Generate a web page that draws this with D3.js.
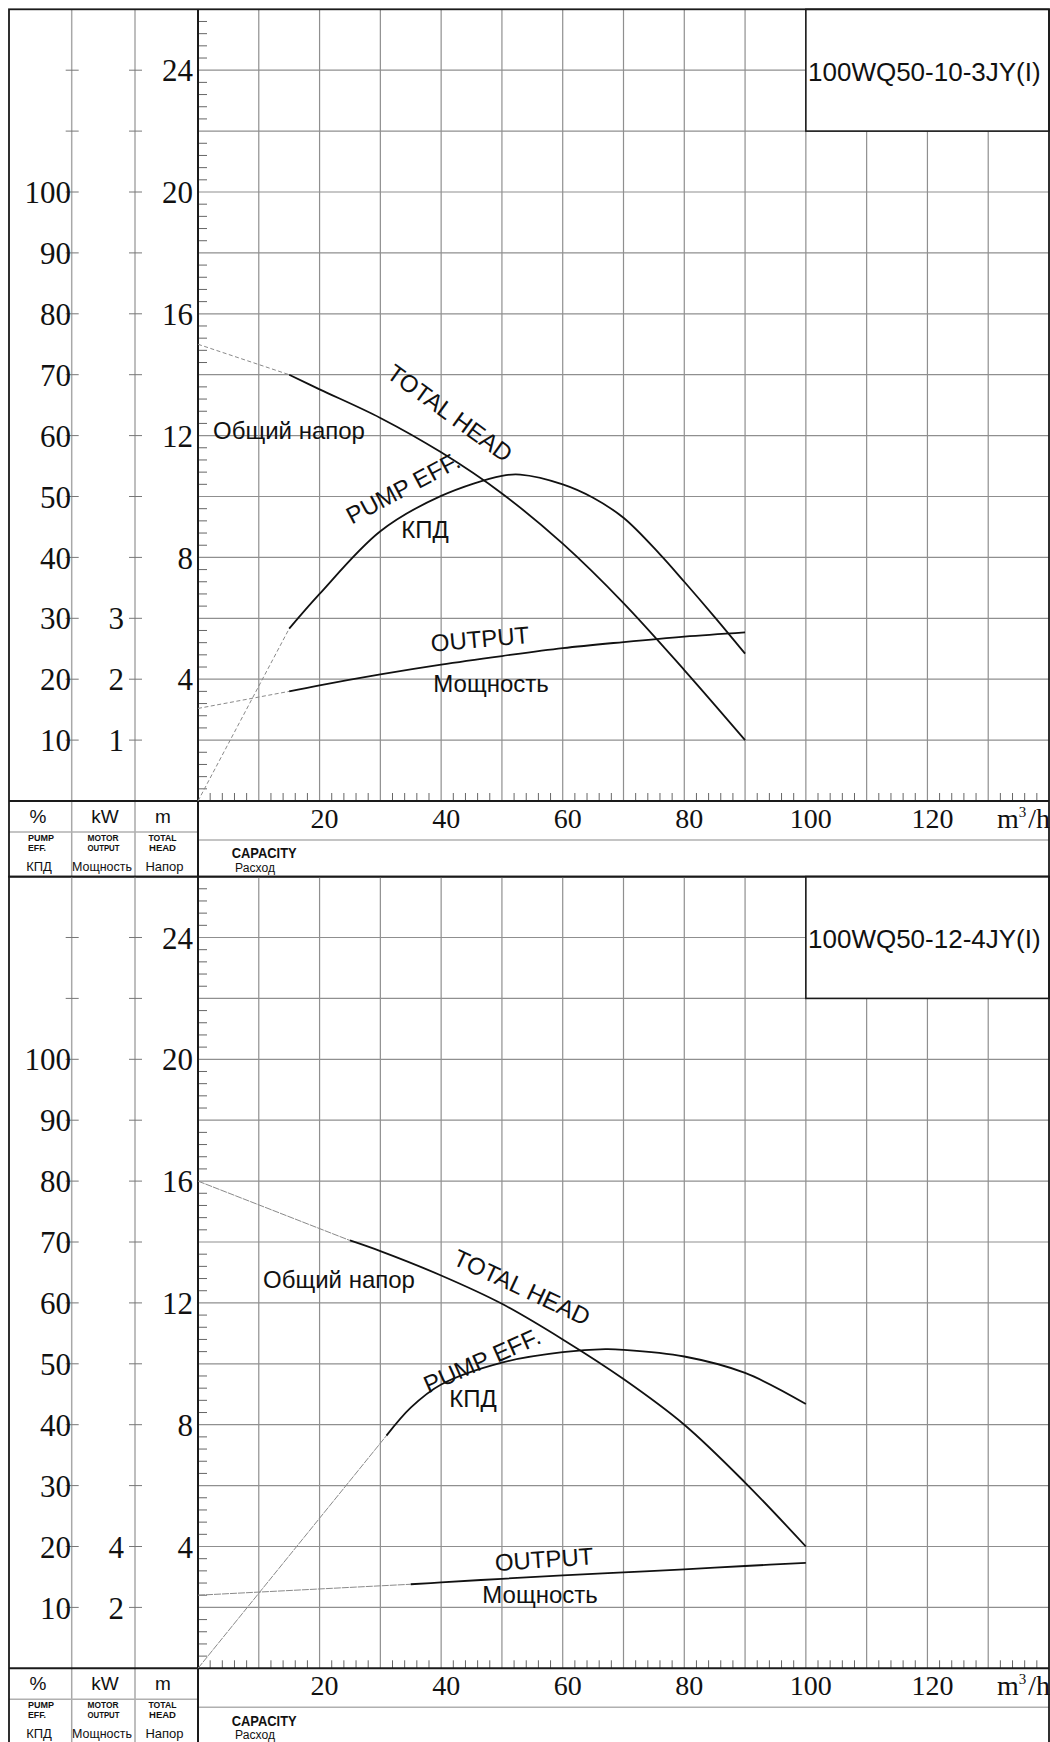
<!DOCTYPE html>
<html><head><meta charset="utf-8">
<script src="https://cdn.jsdelivr.net/npm/d3@7"></script>
<style>body{margin:0;background:#fff}svg{display:block}</style>
</head><body>
<svg id="c" width="1050" height="1742"></svg>
<script>
// ---------- data ----------
const models = ["100WQ50-10-3JY(I)", "100WQ50-12-4JY(I)"];
const capacityTicks = [20, 40, 60, 80, 100, 120];
const effTicks = [10, 20, 30, 40, 50, 60, 70, 80, 90, 100];
const headTicks = [4, 8, 12, 16, 20, 24];
const kwTicks1 = [1, 2, 3];
const kwTicks2 = [2, 4];

// chart 1 : 100WQ50-10-3JY(I)
const head1DashQ = [0, 15], head1DashH = [15.0, 14.0];
const head1Q = [15, 20, 30, 40, 50, 60, 70, 80, 90];
const head1H = [14.0, 13.52, 12.58, 11.45, 10.1, 8.45, 6.5, 4.3, 2.0];
const eff1DashQ = [0, 15], eff1DashE = [0, 28.3];
const eff1Q = [15, 20, 30, 40, 50, 53, 60, 65, 70, 76, 80, 85, 90];
const eff1E = [28.3, 34, 44.3, 50.1, 53.4, 53.6, 52.0, 49.8, 46.5, 40.5, 36.0, 30.2, 24.2];
const pow1DashQ = [0, 15], pow1DashP = [1.52, 1.80];
const pow1Q = [15, 20, 30, 40, 50, 60, 70, 80, 90];
const pow1P = [1.80, 1.90, 2.08, 2.24, 2.38, 2.51, 2.61, 2.70, 2.77];

// chart 2 : 100WQ50-12-4JY(I)
const head2DashQ = [0, 25], head2DashH = [16.0, 14.05];
const head2Q = [25, 30, 40, 50, 60, 70, 80, 90, 100];
const head2H = [14.05, 13.7, 12.9, 11.97, 10.8, 9.5, 8.0, 6.1, 4.0];
const eff2DashQ = [0, 31], eff2DashE = [0, 38.2];
const eff2Q = [31, 35, 40, 50, 60, 67, 70, 80, 90, 100];
const eff2E = [38.2, 42.8, 46.6, 50.2, 51.9, 52.4, 52.3, 51.2, 48.5, 43.4];
const pow2DashQ = [0, 35], pow2DashP = [2.4, 2.76];
const pow2Q = [35, 40, 50, 60, 70, 80, 90, 100];
const pow2P = [2.76, 2.82, 2.94, 3.05, 3.15, 3.25, 3.36, 3.46];

// ---------- drawing ----------
const svg = d3.select("#c");
const SANS = "'Liberation Sans', Arial, sans-serif";
const SERIF = "'Liberation Serif', 'Times New Roman', serif";
const GRID = "#8f8f8f", DARK = "#1a1a1a";

const L = 9, R = 1049, TOP = 9.3, BOT = 801, BAND = 876.7;
const COL1 = 71.7, COL2 = 135, AX = 198;

const x = d3.scaleLinear().domain([0, 140]).range([AX, R]);
const yH = d3.scaleLinear().domain([0, 26]).range([BOT, TOP]);
const yE = d3.scaleLinear().domain([0, 130]).range([BOT, TOP]);

function zip(a, b) { return a.map((v, i) => [v, b[i]]); }

function drawChart(g, cfg) {
  const yP = d3.scaleLinear().domain([0, cfg.pMax]).range([BOT, TOP]);

  // grid
  const vg = d3.range(10, 140, 10);
  g.selectAll(".vg").data(vg).join("line")
    .attr("x1", d => x(d)).attr("x2", d => x(d)).attr("y1", TOP).attr("y2", BOT)
    .attr("stroke", GRID).attr("stroke-width", 1.2);
  const hg = d3.range(2, 26, 2);
  g.selectAll(".hg").data(hg).join("line")
    .attr("x1", AX).attr("x2", R).attr("y1", d => yH(d)).attr("y2", d => yH(d))
    .attr("stroke", GRID).attr("stroke-width", 1.2);

  // title box
  g.append("rect").attr("x", x(100)).attr("y", TOP).attr("width", R - x(100)).attr("height", yH(22) - TOP)
    .attr("fill", "#fff").attr("stroke", DARK).attr("stroke-width", 1.6);
  g.append("text").attr("x", 808).attr("y", 81).text(cfg.model)
    .attr("font-family", SANS).attr("font-size", 26).attr("fill", "#111");

  // column lines
  [COL1, COL2].forEach(c => g.append("line").attr("x1", c).attr("x2", c).attr("y1", TOP).attr("y2", BAND)
    .attr("stroke", "#a8a8a8").attr("stroke-width", 1.5));

  // column ticks
  const ct = d3.range(10, 130, 10);
  [COL1, COL2].forEach(c => {
    g.selectAll(null).data(ct).join("line")
      .attr("x1", c - 6).attr("x2", c + 7).attr("y1", d => yE(d)).attr("y2", d => yE(d))
      .attr("stroke", "#777").attr("stroke-width", 1);
  });

  // head minor ticks
  const hm = d3.range(0.4, 26, 0.4).filter(v => Math.abs(v / 2 - Math.round(v / 2)) > 0.01);
  g.selectAll(null).data(hm).join("line")
    .attr("x1", AX).attr("x2", AX + 9).attr("y1", d => yH(d)).attr("y2", d => yH(d))
    .attr("stroke", "#666").attr("stroke-width", 1);

  // capacity minor ticks
  const qm = d3.range(2, 140, 2).filter(v => v % 10 !== 0);
  g.selectAll(null).data(qm).join("line")
    .attr("x1", d => x(d)).attr("x2", d => x(d)).attr("y1", BOT).attr("y2", BOT - 8)
    .attr("stroke", "#666").attr("stroke-width", 1);

  // band separators
  g.append("line").attr("x1", L).attr("x2", AX).attr("y1", 832).attr("y2", 832).attr("stroke", "#b0b0b0").attr("stroke-width", 1.5);
  g.append("line").attr("x1", AX).attr("x2", R).attr("y1", 840).attr("y2", 840).attr("stroke", "#b0b0b0").attr("stroke-width", 1.5);

  // main axes
  g.append("line").attr("x1", AX).attr("x2", AX).attr("y1", TOP).attr("y2", BAND).attr("stroke", DARK).attr("stroke-width", 2);
  g.append("line").attr("x1", L).attr("x2", R).attr("y1", BOT).attr("y2", BOT).attr("stroke", DARK).attr("stroke-width", 2);
  g.append("rect").attr("x", L).attr("y", TOP).attr("width", R - L).attr("height", BAND - TOP)
    .attr("fill", "none").attr("stroke", DARK).attr("stroke-width", 1.8);

  // axis labels
  g.selectAll(null).data(effTicks).join("text")
    .attr("x", 71).attr("y", d => yE(d)).attr("dy", "0.36em").attr("text-anchor", "end")
    .attr("font-family", SERIF).attr("font-size", 31).attr("fill", "#111").text(d => d);
  g.selectAll(null).data(cfg.kwTicks).join("text")
    .attr("x", 124).attr("y", d => yP(d)).attr("dy", "0.36em").attr("text-anchor", "end")
    .attr("font-family", SERIF).attr("font-size", 31).attr("fill", "#111").text(d => d);
  g.selectAll(null).data(headTicks).join("text")
    .attr("x", 193).attr("y", d => yH(d)).attr("dy", "0.36em").attr("text-anchor", "end")
    .attr("font-family", SERIF).attr("font-size", 31).attr("fill", "#111").text(d => d);
  g.selectAll(null).data(capacityTicks).join("text")
    .attr("x", d => x(d) + 5).attr("y", 827.5).attr("text-anchor", "middle")
    .attr("font-family", SERIF).attr("font-size", 28).attr("fill", "#111").text(d => d);
  const u = g.append("text").attr("x", 997).attr("y", 827.5).attr("font-family", SERIF).attr("font-size", 28).attr("fill", "#111");
  u.append("tspan").text("m");
  u.append("tspan").attr("font-size", 15).attr("dy", -11).text("3");
  u.append("tspan").attr("dy", 11).attr("dx", 2).text("/h");

  // band texts
  const bt = (tx, xx, yy, size, opts = {}) => {
    const t = g.append("text").attr("x", xx).attr("y", yy).text(tx)
      .attr("font-family", SANS).attr("font-size", size).attr("fill", "#111")
      .attr("text-anchor", opts.anchor || "middle").attr("font-weight", opts.bold ? "bold" : "normal");
    if (opts.len) t.attr("textLength", opts.len).attr("lengthAdjust", "spacingAndGlyphs");
    return t;
  };
  bt("%", 38, 823, 19);
  bt("kW", 105, 823, 19);
  bt("m", 163, 823, 19);
  bt("PUMP", 28, 840.5, 8.5, { bold: true, anchor: "start", len: 26 });
  bt("EFF.", 28, 851, 8.5, { bold: true, anchor: "start", len: 18 });
  bt("MOTOR", 87.5, 840.5, 8.5, { bold: true, anchor: "start", len: 31 });
  bt("OUTPUT", 87.5, 851, 8.5, { bold: true, anchor: "start", len: 32 });
  bt("TOTAL", 162.5, 840.5, 8.5, { bold: true, len: 28 });
  bt("HEAD", 162.5, 851, 8.5, { bold: true, len: 27 });
  bt("КПД", 39, 871, 13);
  bt("Мощность", 102, 871, 13, { len: 60 });
  bt("Напор", 164.5, 871, 13);
  bt("CAPACITY", 231.7, 858.3, 15.5, { bold: true, anchor: "start", len: 65 });
  bt("Расход", 235, 871.5, 12, { anchor: "start", len: 40 });

  // curves
  const cv = d3.curveCatmullRom.alpha(0.5);
  const lineH = d3.line().x(d => x(d[0])).y(d => yH(d[1])).curve(cv);
  const lineE = d3.line().x(d => x(d[0])).y(d => yE(d[1])).curve(cv);
  const lineP = d3.line().x(d => x(d[0])).y(d => yP(d[1])).curve(cv);
  const dash = (p) => g.append("path").attr("d", p).attr("fill", "none")
    .attr("stroke", cfg.dashColor).attr("stroke-width", 1).attr("stroke-dasharray", cfg.dashArray);
  const solid = (p) => g.append("path").attr("d", p).attr("fill", "none")
    .attr("stroke", "#111").attr("stroke-width", 1.8);
  dash(lineH(cfg.headDash)); solid(lineH(cfg.head));
  dash(lineE(cfg.effDash)); solid(lineE(cfg.eff));
  dash(lineP(cfg.powDash)); solid(lineP(cfg.pow));

  // curve labels
  const lab = (tx, cx, cy, rot, opts = {}) => g.append("text")
    .attr("transform", `translate(${cx},${cy}) rotate(${rot})`)
    .attr("text-anchor", opts.anchor || "middle").attr("dy", "0.35em")
    .attr("font-family", SANS).attr("font-size", 24).attr("fill", "#111").text(tx);
  const c = cfg.labels;
  g.append("text").attr("x", c.nap[0]).attr("y", c.nap[1]).text("Общий напор")
    .attr("font-family", SANS).attr("font-size", 24).attr("fill", "#111");
  lab("TOTAL HEAD", c.th[0], c.th[1], c.th[2]);
  lab("PUMP EFF.", c.pe[0], c.pe[1], c.pe[2]);
  lab("КПД", c.kpd[0], c.kpd[1], 0);
  lab("OUTPUT", c.out[0], c.out[1], c.out[2]);
  lab("Мощность", c.mo[0], c.mo[1], 0);
}

drawChart(svg.append("g"), {
  model: models[0], pMax: 13, kwTicks: kwTicks1,
  dashColor: "#8a8a8a", dashArray: "4,2.5",
  headDash: zip(head1DashQ, head1DashH), head: zip(head1Q, head1H),
  effDash: zip(eff1DashQ, eff1DashE), eff: zip(eff1Q, eff1E),
  powDash: zip(pow1DashQ, pow1DashP), pow: zip(pow1Q, pow1P),
  labels: { nap: [213, 439], th: [450, 413, 36], pe: [403, 488, -28], kpd: [425, 530],
            out: [480, 639, -5], mo: [491, 684] }
});
drawChart(svg.append("g").attr("transform", "translate(0,867.3)"), {
  model: models[1], pMax: 26, kwTicks: kwTicks2,
  dashColor: "#8a8a8a", dashArray: "7,1",
  headDash: zip(head2DashQ, head2DashH), head: zip(head2Q, head2H),
  effDash: zip(eff2DashQ, eff2DashE), eff: zip(eff2Q, eff2E),
  powDash: zip(pow2DashQ, pow2DashP), pow: zip(pow2Q, pow2P),
  labels: { nap: [263, 421], th: [522, 420, 25], pe: [482, 493, -24], kpd: [473, 531],
            out: [544, 692, -4], mo: [540, 727] }
});
</script>
</body></html>
